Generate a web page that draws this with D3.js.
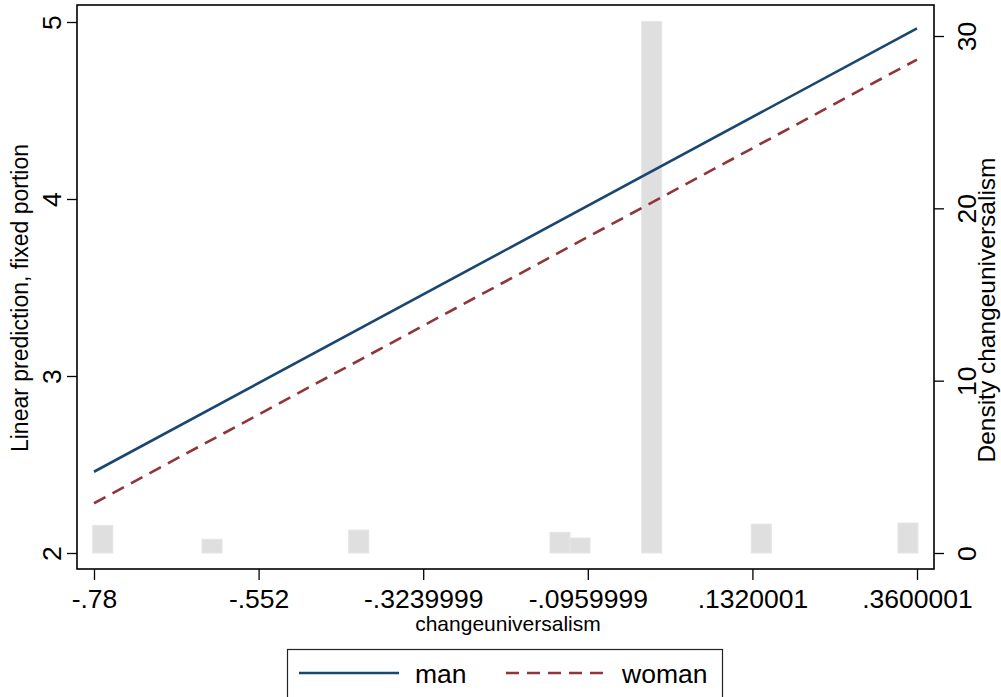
<!DOCTYPE html>
<html>
<head>
<meta charset="utf-8">
<script src="https://cdn.jsdelivr.net/npm/d3@7"></script>
<style>
  body { margin: 0; background: #fff; }
  svg { display: block; font-family: "Liberation Sans", Arial, Helvetica, sans-serif; }
</style>
</head>
<body>
<svg id="chart"></svg>
<script>
// tick values and labels
const xTicks = [-.78, -.552, -.3239999, -.0959999, .1320001, .3600001];
const xTickLabels = ["-.78", "-.552", "-.3239999", "-.0959999", ".1320001", ".3600001"];
const leftTicks = [2, 3, 4, 5];
const rightTicks = [0, 10, 20, 30];

// fitted lines (two end points each)
const lineX = [-.78, .3600001];
const manY = [2.459, 4.964];
const womanY = [2.281, 4.788];

// histogram of changeuniversalism (bin left edge, density)
const binStart = [-.7818, -.6304, -.4272, -.1484, -.1207, -.0214, .1304, .3336];
const binDensity = [1.60, 0.80, 1.33, 1.20, 0.87, 30.84, 1.68, 1.74];
const binWidth = 0.0278;

const width = 1001;
const height = 697;
const frame = { left: 77, right: 934, top: 5, bottom: 569 };

const svg = d3.select('#chart')
    .attr('width', width)
    .attr('height', height);

const x = d3.scaleLinear().domain([-.78, .3600001]).range([94, 917]);
const yL = d3.scaleLinear().domain([2, 5]).range([553, 22]);
const yR = d3.scaleLinear().domain([0, 30]).range([553, 36]);

// histogram bars
svg.append('g')
    .selectAll('rect')
    .data(binStart)
    .join('rect')
    .attr('x', (d) => x(d))
    .attr('width', (d) => x(d + binWidth) - x(d))
    .attr('y', (d, i) => yR(binDensity[i]))
    .attr('height', (d, i) => yR(0) - yR(binDensity[i]))
    .attr('fill', '#dfdfdf')
    .attr('stroke', '#e6e6e6')
    .attr('stroke-width', 1);

// prediction lines
const line = d3.line().x((d) => x(d[0])).y((d) => yL(d[1]));

svg.append('path')
    .datum(lineX.map((v, i) => [v, womanY[i]]))
    .attr('d', line)
    .attr('fill', 'none')
    .attr('stroke', '#90353b')
    .attr('stroke-width', 2.6)
    .attr('stroke-dasharray', '13,8');

svg.append('path')
    .datum(lineX.map((v, i) => [v, manY[i]]))
    .attr('d', line)
    .attr('fill', 'none')
    .attr('stroke', '#1a476f')
    .attr('stroke-width', 2.6);

// frame
svg.append('rect')
    .attr('x', frame.left)
    .attr('y', frame.top)
    .attr('width', frame.right - frame.left)
    .attr('height', frame.bottom - frame.top)
    .attr('fill', 'none')
    .attr('stroke', '#000')
    .attr('stroke-width', 1.6);

// axes
function styleAxis(g) {
    g.select('.domain').remove();
    g.selectAll('line').attr('stroke', '#000').attr('stroke-width', 1.3);
    g.selectAll('text').attr('fill', '#000').attr('font-size', 26.5);
}

svg.append('g')
    .attr('transform', `translate(0, ${frame.bottom})`)
    .call(d3.axisBottom(x).tickValues(xTicks).tickFormat((d, i) => xTickLabels[i]).tickSize(11))
    .call(styleAxis)
    .call((g) => g.selectAll('text').attr('y', 39).attr('dy', 0));

svg.append('g')
    .attr('transform', `translate(${frame.left}, 0)`)
    .call(d3.axisLeft(yL).tickValues(leftTicks).tickFormat(d3.format('d')).tickSize(10))
    .call(styleAxis)
    .call((g) => g.selectAll('text')
        .attr('transform', 'rotate(-90)')
        .attr('x', 0).attr('y', -16).attr('dy', 0)
        .attr('text-anchor', 'middle'));

svg.append('g')
    .attr('transform', `translate(${frame.right}, 0)`)
    .call(d3.axisRight(yR).tickValues(rightTicks).tickSize(10))
    .call(styleAxis)
    .call((g) => g.selectAll('text')
        .attr('transform', 'rotate(-90)')
        .attr('x', 0).attr('y', 42).attr('dy', 0)
        .attr('text-anchor', 'middle'));

// axis titles
svg.append('text')
    .attr('x', 508)
    .attr('y', 631)
    .attr('text-anchor', 'middle')
    .attr('font-size', 21)
    .text('changeuniversalism');

svg.append('text')
    .attr('transform', 'translate(28, 298) rotate(-90)')
    .attr('text-anchor', 'middle')
    .attr('font-size', 23)
    .text('Linear prediction, fixed portion');

svg.append('text')
    .attr('transform', 'translate(995, 310) rotate(-90)')
    .attr('text-anchor', 'middle')
    .attr('font-size', 24.5)
    .text('Density changeuniversalism');

// legend
const legend = svg.append('g');
legend.append('rect')
    .attr('x', 287.5).attr('y', 649.5)
    .attr('width', 435).attr('height', 70)
    .attr('fill', '#fff')
    .attr('stroke', '#222')
    .attr('stroke-width', 1.2);

legend.append('line')
    .attr('x1', 299).attr('x2', 399).attr('y1', 673).attr('y2', 673)
    .attr('stroke', '#1a476f').attr('stroke-width', 2.6);
legend.append('text')
    .attr('x', 415).attr('y', 683)
    .attr('font-size', 26.5)
    .text('man');

legend.append('line')
    .attr('x1', 506).attr('x2', 607).attr('y1', 673).attr('y2', 673)
    .attr('stroke', '#90353b').attr('stroke-width', 2.6)
    .attr('stroke-dasharray', '13,8');
legend.append('text')
    .attr('x', 622).attr('y', 683)
    .attr('font-size', 26.5)
    .text('woman');
</script>
</body>
</html>
